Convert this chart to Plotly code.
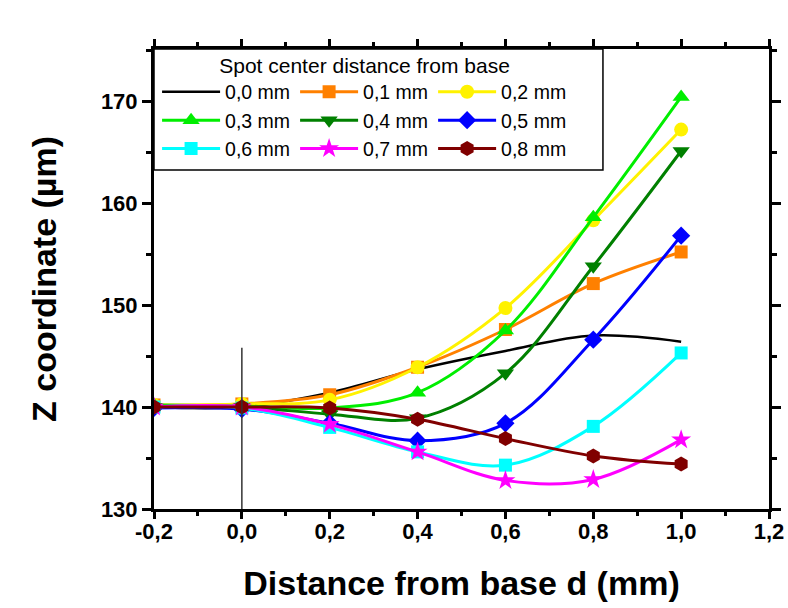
import plotly.graph_objects as go

# ---- data ----
x_vals = [-0.2, 0.0, 0.2, 0.4, 0.6, 0.8, 1.0]

series_names = ["0,0 mm", "0,1 mm", "0,2 mm", "0,3 mm", "0,4 mm",
                "0,5 mm", "0,6 mm", "0,7 mm", "0,8 mm"]

z_00 = [140.0, 140.0, 141.4, 143.7, 145.5, 147.0, 146.4]
z_01 = [140.2, 140.3, 141.2, 143.9, 147.6, 152.1, 155.2]
z_02 = [140.2, 140.3, 140.7, 143.9, 149.7, 158.3, 167.2]
z_03 = [140.2, 140.1, 139.9, 141.4, 147.5, 158.6, 170.4]
z_04 = [140.0, 140.0, 139.3, 138.9, 143.3, 153.8, 165.1]
z_05 = [139.9, 139.8, 138.4, 136.7, 138.4, 146.6, 156.8]
z_06 = [140.0, 139.9, 138.0, 135.6, 134.3, 138.1, 145.3]
z_07 = [140.0, 140.0, 138.3, 135.6, 132.8, 132.9, 136.8]
z_08 = [140.0, 140.0, 139.9, 138.8, 136.9, 135.2, 134.4]

series_values = [z_00, z_01, z_02, z_03, z_04, z_05, z_06, z_07, z_08]

x_tickvals = [-0.2, 0.0, 0.2, 0.4, 0.6, 0.8, 1.0, 1.2]
x_ticktext = ["-0,2", "0,0", "0,2", "0,4", "0,6", "0,8", "1,0", "1,2"]
y_tickvals = [130, 140, 150, 160, 170]
y_ticktext = ["130", "140", "150", "160", "170"]

ref_line_x = [0.0, 0.0]
ref_line_y = [130.0, 145.8]

# ---- styles ----
colors = ["#000000", "#FF8000", "#FFF200", "#00EE00", "#008000",
          "#0000FF", "#00FFFF", "#FF00FF", "#800000"]
symbols = [None, "square", "circle", "triangle-up", "triangle-down",
           "diamond", "square", "star", "hexagon"]
sizes = [0, 13, 14, 15, 15, 14, 13, 15, 15]
groups = ["c1", "c2", "c3", "c1", "c2", "c3", "c1", "c2", "c3"]

FONT = "Liberation Sans, Arial, sans-serif"

fig = go.Figure()
for i, (name, vals) in enumerate(zip(series_names, series_values)):
    if symbols[i] is None:
        fig.add_trace(go.Scatter(
            x=x_vals, y=vals, name=name, mode="lines",
            line=dict(color=colors[i], width=2.5, shape="spline", smoothing=1),
            legendgroup=groups[i]))
    else:
        fig.add_trace(go.Scatter(
            x=x_vals, y=vals, name=name, mode="lines+markers",
            line=dict(color=colors[i], width=3, shape="spline", smoothing=1),
            marker=dict(symbol=symbols[i], size=sizes[i], color=colors[i],
                        line=dict(width=0)),
            legendgroup=groups[i]))

fig.add_trace(go.Scatter(
    x=ref_line_x, y=ref_line_y, mode="lines", showlegend=False,
    line=dict(color="#333333", width=1.5), hoverinfo="skip"))

axis_common = dict(
    showline=True, linecolor="black", linewidth=3, mirror="allticks",
    ticks="outside", tickwidth=2.5, tickcolor="black",
    showgrid=False, zeroline=False,
    tickfont=dict(family=FONT, size=22, color="black", weight="bold"),
)

fig.update_xaxes(
    range=[-0.2, 1.2], tickvals=x_tickvals, ticktext=x_ticktext, ticklen=7,
    ticklabelstandoff=-6,
    minor=dict(dtick=0.1, tick0=0, ticks="outside", ticklen=4, tickwidth=2.5,
               tickcolor="black", showgrid=False),
    title=dict(text="Distance from base d (mm)", standoff=28,
               font=dict(family=FONT, size=34, color="black", weight="bold")),
    **axis_common)
fig.update_yaxes(
    range=[130, 175.1], tickvals=y_tickvals, ticktext=y_ticktext, ticklen=9,
    minor=dict(dtick=5, tick0=130, ticks="outside", ticklen=5, tickwidth=2.5,
               tickcolor="black", showgrid=False),
    title=dict(text="Z coordinate (µm)", standoff=34,
               font=dict(family=FONT, size=34, color="black", weight="bold")),
    **axis_common)

# legend frame (drawn as a layout rectangle so the entries can sit a bit higher)
fig.add_shape(type="rect", xref="paper", yref="paper",
              x0=0, x1=0.730, y0=0.737, y1=1,
              line=dict(color="black", width=1.5), fillcolor="white",
              layer="below")

fig.update_layout(
    width=788, height=608,
    margin=dict(l=154, r=19, t=49, b=99, autoexpand=False),
    paper_bgcolor="white", plot_bgcolor="white",
    showlegend=True,
    legend=dict(
        orientation="h", traceorder="grouped",
        x=0.005, y=1.008, xanchor="left", yanchor="top",
        bgcolor="rgba(0,0,0,0)", borderwidth=0,
        itemwidth=58, tracegroupgap=16,
        font=dict(family=FONT, size=19.5, color="black"),
        title=dict(text="Spot center distance from base", side="top center",
                   font=dict(family=FONT, size=21, color="black")),
    ),
)

fig.write_html("out.html")
